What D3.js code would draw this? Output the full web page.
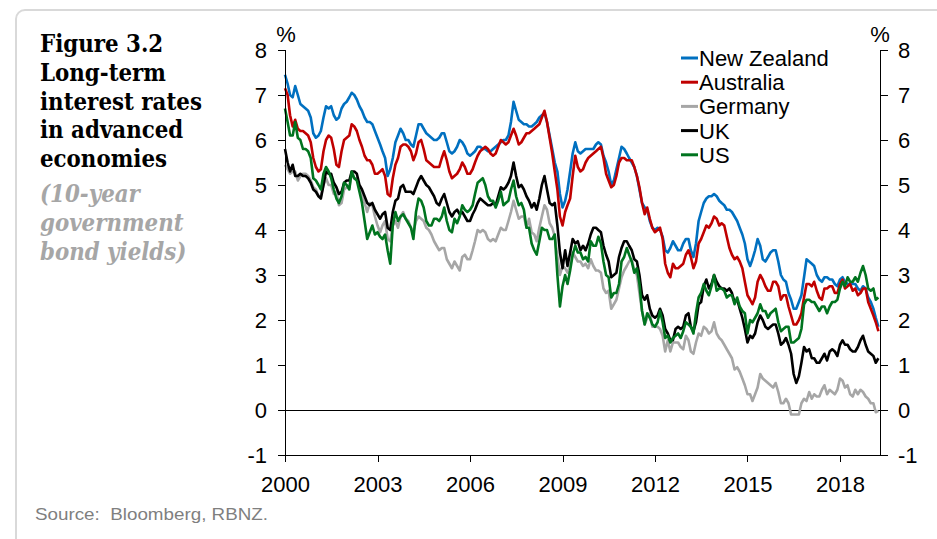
<!DOCTYPE html>
<html><head><meta charset="utf-8">
<script src="https://cdn.jsdelivr.net/npm/d3@7"></script>
<style>
html,body{margin:0;padding:0;background:#fff;}
svg{display:block;}
</style></head>
<body>
<svg id="chart" width="937" height="539"></svg>
<script>
// ---- DATA ----
const startMonth = "2000-01";
const seriesNames = ["New Zealand","Australia","Germany","UK","US"];
const yTicks = [-1,0,1,2,3,4,5,6,7,8];
const xTickYears = [2000,2003,2006,2009,2012,2015,2018];

const nz = [
7.45,7.25,7.00,6.95,7.20,7.00,6.80,6.75,6.70,6.65,6.50,6.15,
6.05,6.10,6.20,6.50,6.75,6.70,6.75,6.55,6.45,6.50,6.70,6.80,
6.85,6.95,7.05,7.00,6.90,6.75,6.65,6.50,6.40,6.40,6.35,6.20,
6.05,5.90,5.75,5.60,5.20,5.35,5.60,5.95,6.10,6.25,6.15,6.00,
6.00,5.90,5.85,6.10,6.35,6.35,6.25,6.15,6.10,6.05,6.00,6.00,
6.05,6.15,6.15,5.95,5.75,5.70,5.75,5.85,6.00,5.95,5.85,5.70,
5.65,5.70,5.75,5.85,5.85,5.80,5.80,5.75,5.75,5.80,5.85,5.90,
5.95,6.00,6.00,6.10,6.40,6.85,6.65,6.45,6.40,6.35,6.35,6.30,
6.30,6.35,6.40,6.50,6.55,6.60,6.40,6.10,5.80,5.50,5.30,4.80,
4.50,4.65,4.90,5.30,5.70,5.95,5.75,5.70,5.75,5.80,5.80,5.80,
5.80,5.90,5.95,5.90,5.65,5.50,5.30,5.00,5.10,5.35,5.60,5.85,
5.80,5.70,5.60,5.50,5.40,5.20,4.90,4.60,4.50,4.45,4.20,4.05,
4.00,4.05,4.00,3.85,3.55,3.50,3.60,3.75,3.65,3.55,3.55,3.70,
3.80,3.80,3.55,3.40,3.70,4.20,4.40,4.60,4.70,4.75,4.75,4.80,
4.75,4.65,4.60,4.55,4.45,4.45,4.40,4.30,4.20,4.05,3.90,3.70,
3.35,3.20,3.35,3.55,3.80,3.65,3.35,3.30,3.40,3.50,3.55,3.55,
3.30,3.00,2.90,2.85,2.60,2.45,2.25,2.25,2.40,2.55,2.95,3.35,
3.30,3.25,3.20,3.00,2.90,2.85,2.95,2.95,2.90,2.90,2.80,2.75,
2.90,2.95,2.85,2.80,2.80,2.80,2.80,2.70,2.65,2.75,2.70,2.50,
2.40,2.25,2.05,1.85];

const au = [
7.15,7.00,6.55,6.30,6.45,6.25,6.20,6.20,6.15,6.10,5.95,5.60,
5.40,5.30,5.35,5.75,6.00,6.10,6.05,5.80,5.45,5.40,5.75,6.00,
6.05,6.10,6.35,6.30,6.20,6.00,5.85,5.65,5.55,5.55,5.45,5.25,
5.25,5.30,5.35,5.20,4.80,4.75,5.15,5.45,5.60,5.85,5.90,5.90,
5.85,5.75,5.55,5.70,5.95,6.00,5.80,5.55,5.50,5.45,5.40,5.40,
5.40,5.60,5.75,5.55,5.30,5.15,5.20,5.25,5.35,5.50,5.40,5.25,
5.25,5.35,5.50,5.65,5.75,5.80,5.85,5.80,5.70,5.65,5.70,5.85,
6.00,5.95,5.90,5.95,6.10,6.25,6.10,5.90,5.95,6.05,6.15,6.15,
6.20,6.25,6.30,6.35,6.50,6.65,6.40,6.05,5.70,5.30,4.90,4.30,
4.10,4.40,4.55,4.70,5.20,5.65,5.40,5.30,5.35,5.50,5.60,5.65,
5.70,5.75,5.80,5.85,5.60,5.25,5.10,4.95,5.00,5.20,5.50,5.60,
5.60,5.55,5.55,5.55,5.40,5.20,4.95,4.60,4.35,4.50,4.25,4.05,
3.95,4.00,4.05,3.80,3.25,3.05,2.95,3.25,3.15,3.15,3.20,3.25,
3.45,3.55,3.40,3.15,3.30,3.70,3.80,3.95,4.10,4.05,4.15,4.30,
4.25,4.10,4.15,4.10,3.85,3.60,3.45,3.35,3.40,3.30,3.15,2.85,
2.55,2.45,2.35,2.50,2.85,3.00,2.90,2.75,2.65,2.65,2.85,2.85,
2.75,2.45,2.55,2.55,2.30,2.10,1.90,1.90,2.00,2.15,2.50,2.80,
2.80,2.75,2.85,2.65,2.50,2.45,2.70,2.70,2.75,2.75,2.60,2.60,
2.80,2.90,2.70,2.75,2.80,2.65,2.70,2.55,2.60,2.70,2.70,2.40,
2.25,2.10,1.95,1.75];

const de = [
5.45,5.35,5.25,5.30,5.30,5.10,5.20,5.25,5.25,5.20,5.10,4.95,
4.90,4.75,4.75,5.00,5.15,5.00,5.00,4.80,4.85,4.55,4.60,4.90,
4.95,4.95,5.25,5.15,5.15,4.95,4.75,4.60,4.40,4.60,4.55,4.30,
4.10,3.95,4.10,4.20,3.80,3.75,4.10,4.20,4.05,4.30,4.40,4.25,
4.20,4.05,3.95,4.20,4.30,4.25,4.20,4.05,4.00,3.90,3.75,3.65,
3.55,3.60,3.60,3.35,3.25,3.15,3.30,3.20,3.10,3.40,3.45,3.35,
3.35,3.55,3.75,4.00,3.95,4.00,3.95,3.80,3.75,3.80,3.75,3.90,
4.05,4.00,4.00,4.20,4.40,4.65,4.45,4.25,4.30,4.30,4.05,4.25,
3.95,3.90,3.75,4.05,4.30,4.55,4.45,4.15,4.05,3.85,3.40,3.00,
3.20,3.15,3.05,3.20,3.50,3.40,3.30,3.30,3.20,3.25,3.15,3.35,
3.20,3.10,3.10,3.05,2.70,2.60,2.65,2.25,2.35,2.45,2.70,2.95,
3.10,3.20,3.30,3.35,3.10,3.00,2.60,2.20,1.90,2.05,2.15,1.85,
1.85,1.85,1.80,1.65,1.30,1.55,1.30,1.50,1.50,1.50,1.40,1.35,
1.65,1.55,1.30,1.25,1.50,1.70,1.65,1.85,1.80,1.70,1.75,1.95,
1.70,1.60,1.55,1.45,1.35,1.25,1.15,0.90,0.95,0.85,0.70,0.55,
0.35,0.35,0.20,0.35,0.50,0.80,0.70,0.65,0.60,0.55,0.50,0.60,
0.40,0.15,0.15,0.25,0.15,-0.10,-0.10,-0.10,-0.10,0.15,0.25,0.20,
0.40,0.25,0.35,0.30,0.30,0.45,0.55,0.35,0.45,0.40,0.35,0.45,
0.70,0.65,0.50,0.55,0.35,0.30,0.45,0.35,0.45,0.40,0.30,0.25,
0.15,0.15,-0.05,-0.02];

const uk = [
5.80,5.50,5.30,5.45,5.20,5.20,5.25,5.20,5.20,5.15,5.05,4.90,
4.85,4.75,4.70,5.00,5.30,5.25,5.25,5.05,4.95,4.80,4.85,5.05,
5.10,5.10,5.30,5.30,5.25,5.00,4.90,4.75,4.60,4.55,4.60,4.45,
4.35,4.25,4.35,4.40,4.05,4.00,4.40,4.65,4.70,4.95,5.00,4.85,
4.85,4.85,4.80,4.95,5.10,5.20,5.10,5.00,4.95,4.85,4.75,4.60,
4.55,4.70,4.80,4.60,4.40,4.30,4.40,4.45,4.35,4.40,4.30,4.20,
4.20,4.35,4.45,4.60,4.70,4.65,4.60,4.55,4.55,4.60,4.55,4.75,
4.95,4.90,4.95,5.05,5.20,5.50,5.20,4.95,5.00,4.90,4.75,4.65,
4.50,4.60,4.45,4.70,5.00,5.20,4.90,4.60,4.55,4.60,4.10,3.50,
3.15,3.55,3.20,3.50,3.80,3.70,3.75,3.55,3.65,3.55,3.70,3.90,
4.05,4.05,4.00,3.95,3.65,3.45,3.30,2.95,3.00,3.05,3.40,3.60,
3.75,3.75,3.65,3.55,3.35,3.30,3.00,2.55,2.45,2.55,2.25,2.10,
2.05,2.10,2.25,2.10,1.80,1.70,1.55,1.55,1.80,1.85,1.80,1.85,
2.10,2.15,1.85,1.75,1.95,2.35,2.40,2.75,2.90,2.70,2.80,3.00,
2.85,2.75,2.70,2.70,2.65,2.70,2.60,2.40,2.45,2.25,2.05,1.80,
1.50,1.65,1.60,1.70,1.95,2.10,2.00,1.85,1.80,1.85,1.90,1.90,
1.70,1.45,1.50,1.60,1.45,1.25,0.80,0.60,0.75,1.05,1.40,1.30,
1.35,1.15,1.15,1.05,1.05,1.15,1.25,1.10,1.30,1.35,1.30,1.20,
1.45,1.55,1.45,1.45,1.35,1.30,1.30,1.40,1.55,1.65,1.45,1.30,
1.25,1.20,1.05,1.15];

const us = [
6.70,6.40,6.10,6.10,6.40,6.05,6.00,5.80,5.80,5.75,5.60,5.15,
5.10,5.00,4.90,5.25,5.40,5.30,5.15,4.90,4.70,4.60,4.75,5.05,
5.00,4.90,5.30,5.15,5.10,4.85,4.60,4.20,3.80,3.95,4.10,3.90,
3.95,3.85,3.80,3.90,3.55,3.25,4.10,4.40,4.20,4.30,4.35,4.25,
4.15,4.05,3.80,4.40,4.70,4.65,4.50,4.20,4.10,4.10,4.25,4.25,
4.20,4.30,4.50,4.20,4.00,3.95,4.25,4.15,4.30,4.55,4.45,4.40,
4.45,4.55,4.80,5.05,5.10,5.15,5.00,4.75,4.65,4.65,4.50,4.65,
4.85,4.55,4.60,4.65,4.90,5.10,4.75,4.55,4.60,4.45,4.05,4.05,
3.70,3.55,3.45,3.75,4.05,4.00,4.00,3.80,3.80,3.90,3.00,2.30,
2.75,3.00,2.80,3.10,3.45,3.65,3.50,3.50,3.35,3.40,3.30,3.75,
3.65,3.65,3.85,3.70,3.30,3.00,2.95,2.50,2.60,2.60,2.80,3.30,
3.40,3.60,3.45,3.30,3.05,3.15,2.80,2.20,1.90,2.15,2.05,1.90,
1.85,1.95,2.20,1.95,1.60,1.65,1.50,1.60,1.65,1.70,1.60,1.75,
1.95,1.90,1.85,1.70,2.15,2.50,2.60,2.80,2.65,2.55,2.75,3.00,
2.65,2.70,2.70,2.65,2.50,2.55,2.55,2.35,2.50,2.30,2.20,2.15,
1.70,2.00,1.95,2.05,2.15,2.35,2.20,2.20,2.05,2.15,2.20,2.25,
1.95,1.75,1.80,1.85,1.85,1.50,1.50,1.55,1.60,1.80,2.35,2.45,
2.45,2.40,2.40,2.30,2.20,2.30,2.30,2.15,2.30,2.40,2.40,2.45,
2.70,2.85,2.75,2.95,2.85,2.85,2.95,2.85,3.05,3.20,3.00,2.70,
2.65,2.70,2.45,2.50];

const seriesValues = [nz, au, de, uk, us];
const seriesColors = ["#0070c0","#c00000","#a6a6a6","#000000","#00741f"];

const titleLines = ["Figure 3.2","Long-term","interest rates","in advanced","economies"];
const subtitleLines = ["(10-year","government","bond yields)"];
const sourceText = "Source:  Bloomberg, RBNZ.";

// ---- LAYOUT ----
const svg = d3.select("#chart");
const L = 285, R = 880, T = 50, B = 455;

svg.append("rect").attr("x",16).attr("y",10).attr("width",1000).attr("height",700)
  .attr("rx",9).attr("fill","none").attr("stroke","#d9d9d9").attr("stroke-width",2);

const parse = d3.timeParse("%Y-%m");
const start = parse(startMonth);
const dates = nz.map((_, i) => d3.timeMonth.offset(start, i));

const x = d3.scaleTime().domain([new Date(2000,0,1), new Date(2019,3,20)]).range([L, R]);
const y = d3.scaleLinear().domain([-1, 8]).range([B, T]);

const axisFont = "'Liberation Sans', Arial, sans-serif";

// zero line
svg.append("line").attr("x1",L).attr("x2",R).attr("y1",y(0)).attr("y2",y(0))
  .attr("stroke","#000").attr("stroke-width",1).attr("shape-rendering","crispEdges");

// lines
const line = d3.line().x((d,i)=>x(dates[i])).y(d=>y(d));
seriesValues.forEach((vals, k) => {
  svg.append("path").datum(vals).attr("d", line)
    .attr("fill","none").attr("stroke",seriesColors[k]).attr("stroke-width",2.6)
    .attr("stroke-linejoin","round");
});

// axes
const yl = svg.append("g").attr("transform",`translate(${L},0)`)
  .call(d3.axisLeft(y).tickValues(yTicks).tickSize(7).tickSizeOuter(0).tickFormat(d=>String(d)));
const yr = svg.append("g").attr("transform",`translate(${R},0)`)
  .call(d3.axisRight(y).tickValues(yTicks).tickSize(8).tickSizeOuter(0).tickFormat(d=>String(d)));
const xb = svg.append("g").attr("transform",`translate(0,${B})`)
  .call(d3.axisBottom(x).tickValues(xTickYears.map(v=>new Date(v,0,1))).tickSize(7).tickSizeOuter(0).tickFormat(d3.timeFormat("%Y")));

[yl, yr, xb].forEach(g => {
  g.selectAll("path,line").attr("stroke","#000").attr("stroke-width",1).attr("shape-rendering","crispEdges");
  g.selectAll("text").attr("font-family",axisFont).attr("font-size",22).attr("fill","#000");
});
yl.selectAll("text").attr("x",-18).attr("dy","0.36em");
yr.selectAll("text").attr("x",18).attr("dy","0.36em");
xb.selectAll("text").attr("y",37).attr("dy",null);
yl.select(".domain").attr("d",`M0,${T}V${B}`);
yr.select(".domain").attr("d",`M0,${T}V${B}`);
xb.select(".domain").attr("d",`M${L},0H${R}`);

// % labels
[L + 1, R].forEach(px => {
  svg.append("text").attr("x",px).attr("y",42).attr("text-anchor","middle")
    .attr("font-family",axisFont).attr("font-size",22).text("%");
});

// legend
const lg = svg.append("g");
seriesNames.forEach((n,k) => {
  const cy = 58 + k*24.2;
  lg.append("line").attr("x1",681).attr("x2",698).attr("y1",cy).attr("y2",cy)
    .attr("stroke",seriesColors[k]).attr("stroke-width",3);
  lg.append("text").attr("x",699).attr("y",cy).attr("dy","0.36em")
    .attr("font-family",axisFont).attr("font-size",22).text(n);
});

// title
const tg = svg.append("g");
const serif = "'DejaVu Serif', 'Liberation Serif', serif";
const titleBase = [52,81,110,138,167];
const subBase = [202,231,260];
const tt = [];
titleLines.forEach((s,i) => {
  tt.push(tg.append("text").attr("x",0).attr("y",titleBase[i]).attr("font-family",serif)
    .attr("font-weight","bold").attr("font-size",25).attr("fill","#000").text(s));
});
subtitleLines.forEach((s,i) => {
  tt.push(tg.append("text").attr("x",0).attr("y",subBase[i]).attr("font-family",serif)
    .attr("font-weight","bold").attr("font-style","italic").attr("font-size",25).attr("fill","#a6a6a6").text(s));
});
const w = tt[2].node().getComputedTextLength();
const sx = 162 / w;
tg.attr("transform",`translate(40,0) scale(${sx},1)`);

// source
svg.append("text").attr("x",35).attr("y",520).attr("font-family",axisFont)
  .attr("font-size",17).attr("fill","#7f7f7f").attr("xml:space","preserve")
  .attr("textLength",233).attr("lengthAdjust","spacingAndGlyphs")
  .style("white-space","pre").text(sourceText);
</script>
</body></html>
